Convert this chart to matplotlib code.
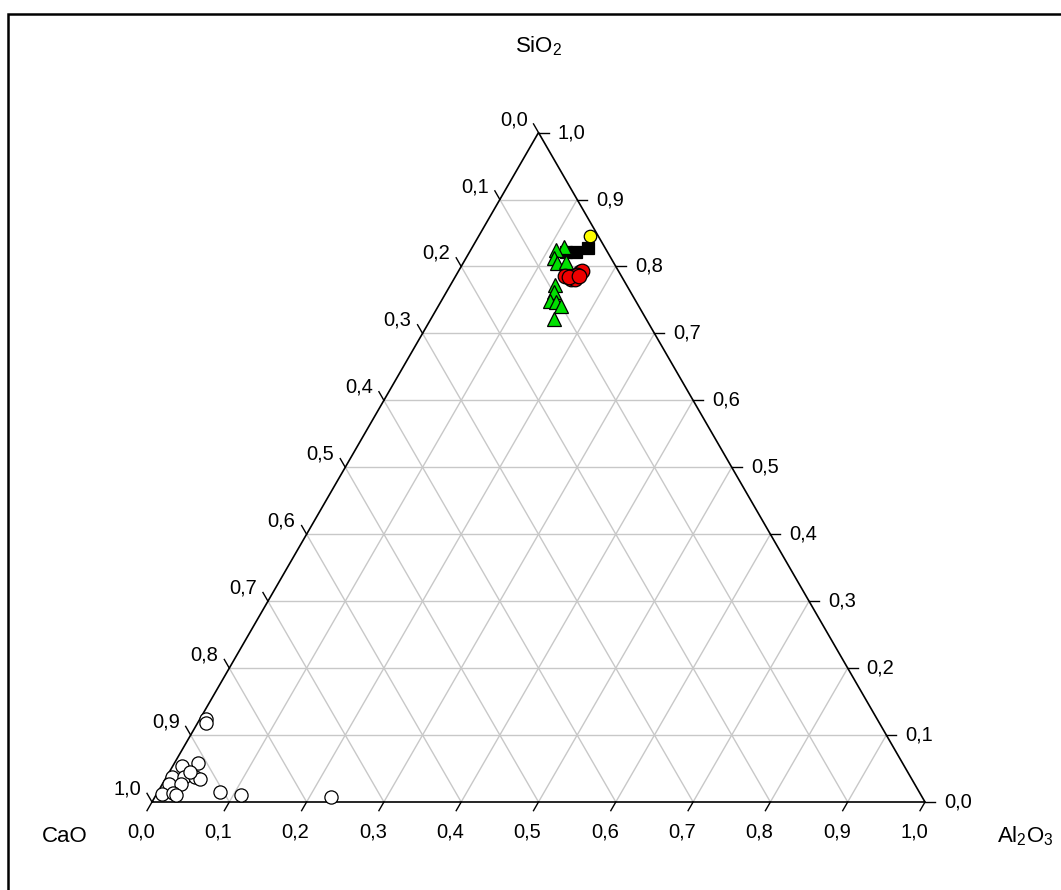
import numpy as np
import matplotlib
matplotlib.use("Agg")
import matplotlib.pyplot as plt
from matplotlib.lines import Line2D

plt.rcParams['font.family'] = ['Liberation Sans', 'DejaVu Sans']
plt.rcParams['mathtext.fontset'] = 'custom'
plt.rcParams['mathtext.rm'] = 'Liberation Sans'
plt.rcParams['mathtext.it'] = 'Liberation Sans:italic'
plt.rcParams['mathtext.bf'] = 'Liberation Sans:bold'

# --- compositions (mass fractions SiO2 / Al2O3 / CaO) ---
white_sio2 = [0.124, 0.118, 0.054, 0.058, 0.038, 0.038, 0.037, 0.034, 0.027,
              0.027, 0.012, 0.013, 0.011, 0.015, 0.011, 0.007, 0.045]
white_al2o3 = [0.008, 0.011, 0.012, 0.030, 0.007, 0.022, 0.037, 0.045, 0.008,
               0.024, 0.007, 0.021, 0.026, 0.080, 0.109, 0.228, 0.027]
white_cao = [0.868, 0.871, 0.934, 0.912, 0.955, 0.940, 0.926, 0.921, 0.965,
             0.949, 0.981, 0.966, 0.963, 0.905, 0.880, 0.765, 0.928]

green_sio2 = [0.829, 0.824, 0.812, 0.805, 0.806, 0.773, 0.762, 0.749, 0.747, 0.741, 0.721]
green_al2o3 = [0.118, 0.110, 0.114, 0.122, 0.133, 0.135, 0.139, 0.141, 0.149, 0.158, 0.160]
green_cao = [0.053, 0.066, 0.074, 0.073, 0.061, 0.092, 0.099, 0.110, 0.104, 0.101, 0.119]

black_sio2 = [0.827, 0.822, 0.822]
black_al2o3 = [0.150, 0.138, 0.124]
black_cao = [0.023, 0.040, 0.054]

red_sio2 = [0.786, 0.781, 0.781, 0.791, 0.793, 0.787, 0.784, 0.786]
red_al2o3 = [0.141, 0.151, 0.157, 0.158, 0.160, 0.156, 0.147, 0.159]
red_cao = [0.073, 0.068, 0.062, 0.051, 0.047, 0.057, 0.069, 0.055]

yellow_sio2 = [0.845]
yellow_al2o3 = [0.144]
yellow_cao = [0.011]

tick_values = [0.0, 0.1, 0.2, 0.3, 0.4, 0.5, 0.6, 0.7, 0.8, 0.9, 1.0]
tick_labels = ['0,0', '0,1', '0,2', '0,3', '0,4', '0,5', '0,6', '0,7', '0,8', '0,9', '1,0']

H = np.sqrt(3) / 2


def tern(si, al, ca=None):
    """Ternary (SiO2 top, Al2O3 bottom-right, CaO bottom-left) -> cartesian."""
    si = np.asarray(si, dtype=float)
    al = np.asarray(al, dtype=float)
    if ca is not None:
        tot = si + al + np.asarray(ca, dtype=float)
        si, al = si / tot, al / tot
    return al + si / 2, si * H


W, HH = 1061, 890
fig = plt.figure(figsize=(W / 100, HH / 100), dpi=100)
ax = fig.add_axes([0, 0, 1, 1])
scale = 773.0
ox, oy = 152.0, 802.0
ax.set_xlim(-ox / scale, (W - ox) / scale)
ax.set_ylim(-(HH - oy) / scale, oy / scale)
ax.axis('off')

# grid
grid_kw = dict(color='#c8c8c8', lw=1.0, zorder=1)
for t in tick_values[1:-1]:
    x, y = tern([t, t], [0, 1 - t])
    ax.plot(x, y, **grid_kw)
    x, y = tern([0, 1 - t], [t, t])
    ax.plot(x, y, **grid_kw)
    x, y = tern([0, 1 - t], [1 - t, 0])
    ax.plot(x, y, **grid_kw)

# triangle outline
ax.plot([0, 1, 0.5, 0], [0, 0, H, 0], color='black', lw=1.2, zorder=2,
        solid_joinstyle='miter')

# ticks and tick labels
tl = 10 / scale
fs_tick = 14.5
for t, lab in zip(tick_values, tick_labels):
    # Al2O3 along bottom edge
    x, y = tern(0, t)
    ax.plot([x, x - 0.5 * tl], [y, y - H * tl], color='black', lw=1.0, zorder=2)
    ax.annotate(lab, (x, y), xytext=(-11, -30), textcoords='offset pixels',
                ha='center', va='center', fontsize=fs_tick)
    # SiO2 along right edge
    x, y = tern(t, 1 - t)
    ax.plot([x, x + tl], [y, y], color='black', lw=1.0, zorder=2)
    ax.annotate(lab, (x, y), xytext=(19, 0), textcoords='offset pixels',
                ha='left', va='center', fontsize=fs_tick)
    # CaO along left edge
    x, y = tern(1 - t, 0)
    ax.plot([x, x - 0.5 * tl], [y, y + H * tl], color='black', lw=1.0, zorder=2)
    ax.annotate(lab, (x, y), xytext=(-11, 13), textcoords='offset pixels',
                ha='right', va='center', fontsize=fs_tick)

# component labels
fs_lab = 16
ax.annotate(r'SiO$_\mathregular{2}$', (0.5, H), xytext=(0, 80),
            textcoords='offset pixels', ha='center', va='baseline', fontsize=fs_lab)
ax.annotate('CaO', (0, 0), xytext=(-87, -40), textcoords='offset pixels',
            ha='center', va='baseline', fontsize=fs_lab)
ax.annotate(r'Al$_\mathregular{2}$O$_\mathregular{3}$', (1, 0), xytext=(100, -40),
            textcoords='offset pixels', ha='center', va='baseline', fontsize=fs_lab)

# data
mk = dict(linestyle='none', markeredgecolor='black', markeredgewidth=0.9)
x, y = tern(white_sio2, white_al2o3, white_cao)
ax.plot(x, y, marker='o', ms=9.5, markerfacecolor='white', zorder=3, **mk)
x, y = tern(black_sio2, black_al2o3, black_cao)
ax.plot(x, y, marker='s', ms=8, markerfacecolor='black', zorder=3, **mk)
x, y = tern(green_sio2, green_al2o3, green_cao)
ax.plot(x, y, marker='^', ms=10, markerfacecolor='#00e000', zorder=4, **mk)
x, y = tern(red_sio2, red_al2o3, red_cao)
ax.plot(x, y, marker='o', ms=10.5, markerfacecolor='#ee0000', zorder=5, **mk)
x, y = tern(yellow_sio2, yellow_al2o3, yellow_cao)
ax.plot(x, y, marker='o', ms=9, markerfacecolor='#ffff00', zorder=5, **mk)

# outer frame (top and left edges)
fx = 7.5 / W
fy = 1 - 14 / HH
fig.add_artist(Line2D([fx, fx, 1.0], [0.0, fy, fy], color='black', lw=1.8,
                      solid_joinstyle='miter', transform=fig.transFigure))

fig.savefig('out.png', dpi=100)
